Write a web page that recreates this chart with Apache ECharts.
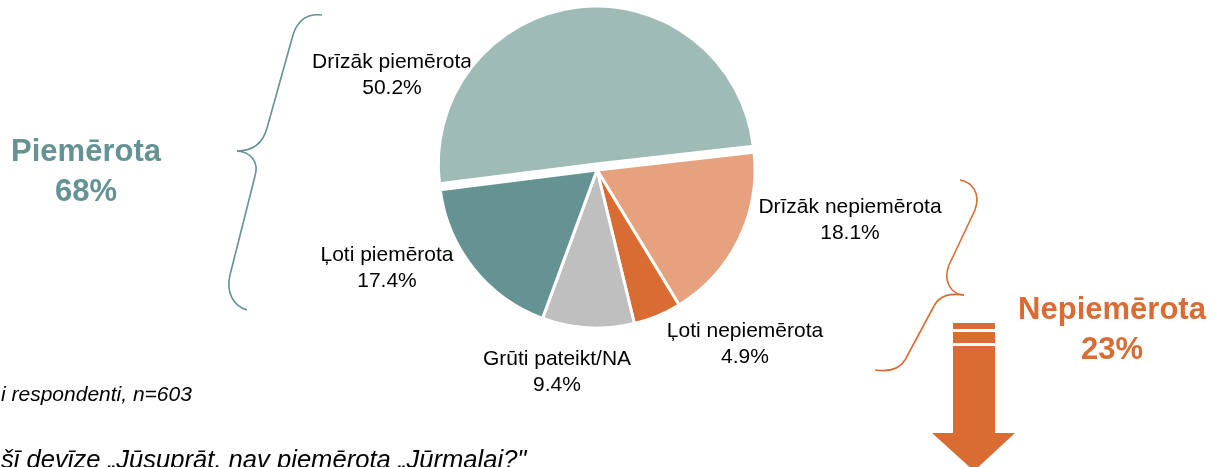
<!DOCTYPE html>
<html>
<head>
<meta charset="utf-8">
<script src="https://cdn.jsdelivr.net/npm/echarts@6/dist/echarts.min.js"></script>
<style>
  html, body { margin: 0; padding: 0; background: #ffffff; }
  #chart { width: 1213px; height: 467px; }
</style>
</head>
<body>
<div id="chart"></div>
<script>
// Survey answers, percent of respondents (n=603)
const categories = ['Drīzāk piemērota', 'Drīzāk nepiemērota', 'Ļoti nepiemērota', 'Grūti pateikt/NA', 'Ļoti piemērota'];
const shares = [50.2, 18.1, 4.9, 9.4, 17.4];
const sliceColors = ['#9EBBB6', '#E6A27F', '#D96C33', '#BFBFBF', '#659292'];

// Groups summed for the side captions
const suitableGroup = ['Drīzāk piemērota', 'Ļoti piemērota'];
const unsuitableGroup = ['Drīzāk nepiemērota', 'Ļoti nepiemērota'];
const suitableTitle = 'Piemērota';
const unsuitableTitle = 'Nepiemērota';

const footnote = 'i respondenti, n=603';
const question = 'šī devīze „Jūsuprāt, nav piemērota „Jūrmalai?"';

// Where each slice label sits (centre of the two-line block)
const labelCenters = [[392, 75], [850, 220], [745, 344], [557, 372], [387, 268]];

const TEAL = '#659292';
const ORANGE = '#D96C33';
const FONT = 'Arial, "Liberation Sans", sans-serif';

function groupTotal(names) {
  return names.reduce((s, n) => s + shares[categories.indexOf(n)], 0);
}

const pieData = categories.map((name, i) => ({
  name: name,
  value: shares[i],
  selected: i === 0,
  itemStyle: { color: sliceColors[i] }
}));

// Slice labels: name and value of each slice
const sliceLabels = categories.map((name, i) => ({
  type: 'text',
  x: labelCenters[i][0],
  y: labelCenters[i][1],
  silent: true,
  style: {
    text: name + '\n' + shares[i].toFixed(1) + '%',
    fill: '#000000',
    font: '21px ' + FONT,
    lineHeight: 26,
    align: 'center',
    verticalAlign: 'middle'
  }
}));

function bez(p0, c1, c2, p1, color) {
  return {
    type: 'bezierCurve',
    shape: { x1: p0[0], y1: p0[1], cpx1: c1[0], cpy1: c1[1], cpx2: c2[0], cpy2: c2[1], x2: p1[0], y2: p1[1] },
    style: { stroke: color, lineWidth: 1.6, fill: null },
    silent: true
  };
}
function seg(p0, p1, color) {
  return {
    type: 'line',
    shape: { x1: p0[0], y1: p0[1], x2: p1[0], y2: p1[1] },
    style: { stroke: color, lineWidth: 1.6 },
    silent: true
  };
}

const tealBrace = [
  bez([322, 15], [306, 13], [297, 22], [293, 35], TEAL),
  seg([293, 35], [267, 128], TEAL),
  bez([267, 128], [263, 143], [254, 151], [237, 151], TEAL),
  bez([237, 151], [252, 152], [259, 163], [255, 176], TEAL),
  seg([255, 176], [230, 275], TEAL),
  bez([230, 275], [226, 292], [233, 306], [247, 310], TEAL)
];

const orangeBrace = [
  bez([960, 180], [972, 182], [981, 193], [975, 210], ORANGE),
  seg([975, 210], [949, 265], ORANGE),
  bez([949, 265], [943, 280], [950, 294], [964, 295], ORANGE),
  bez([964, 295], [950, 293], [940, 295], [934, 306], ORANGE),
  seg([934, 306], [905, 360], ORANGE),
  bez([905, 360], [899, 370], [889, 372], [875, 370], ORANGE)
];

// Down arrow with two bands above the shaft
const arrow = [
  { type: 'rect', shape: { x: 953, y: 323, width: 42, height: 6 }, style: { fill: ORANGE }, silent: true },
  { type: 'rect', shape: { x: 953, y: 332, width: 42, height: 11 }, style: { fill: ORANGE }, silent: true },
  {
    type: 'polygon',
    shape: { points: [[953, 346], [995, 346], [995, 433], [1015, 433], [974, 471], [932, 433], [953, 433]] },
    style: { fill: ORANGE },
    silent: true
  }
];

const texts = [
  {
    type: 'text', x: 86, y: 172, silent: true,
    style: {
      text: suitableTitle + '\n' + Math.round(groupTotal(suitableGroup)) + '%',
      fill: TEAL, font: 'bold 31px ' + FONT, lineHeight: 40, align: 'center', verticalAlign: 'middle'
    }
  },
  {
    type: 'text', x: 1112, y: 330, silent: true,
    style: {
      text: unsuitableTitle + '\n' + Math.round(groupTotal(unsuitableGroup)) + '%',
      fill: ORANGE, font: 'bold 31px ' + FONT, lineHeight: 40, align: 'center', verticalAlign: 'middle'
    }
  },
  {
    type: 'text', x: 1, y: 395, silent: true,
    style: { text: footnote, fill: '#000', font: 'italic 21px ' + FONT, align: 'left', verticalAlign: 'middle' }
  },
  {
    type: 'text', x: 1, y: 461, silent: true,
    style: { text: question, fill: '#000', font: 'italic 25.6px ' + FONT, align: 'left', verticalAlign: 'middle' }
  }
];

const chart = echarts.init(document.getElementById('chart'), null, { renderer: 'canvas' });
chart.setOption({
  animation: false,
  backgroundColor: '#ffffff',
  series: [{
    type: 'pie',
    center: [597, 170],
    radius: 158,
    startAngle: 187.2,
    clockwise: true,
    selectedMode: 'single',
    selectedOffset: 6,
    avoidLabelOverlap: false,
    itemStyle: { borderColor: '#ffffff', borderWidth: 3 },
    emphasis: { disabled: true },
    label: { show: false },
    labelLine: { show: false },
    data: pieData
  }],
  graphic: { elements: [].concat(tealBrace, orangeBrace, arrow, sliceLabels, texts) }
});
</script>
</body>
</html>
